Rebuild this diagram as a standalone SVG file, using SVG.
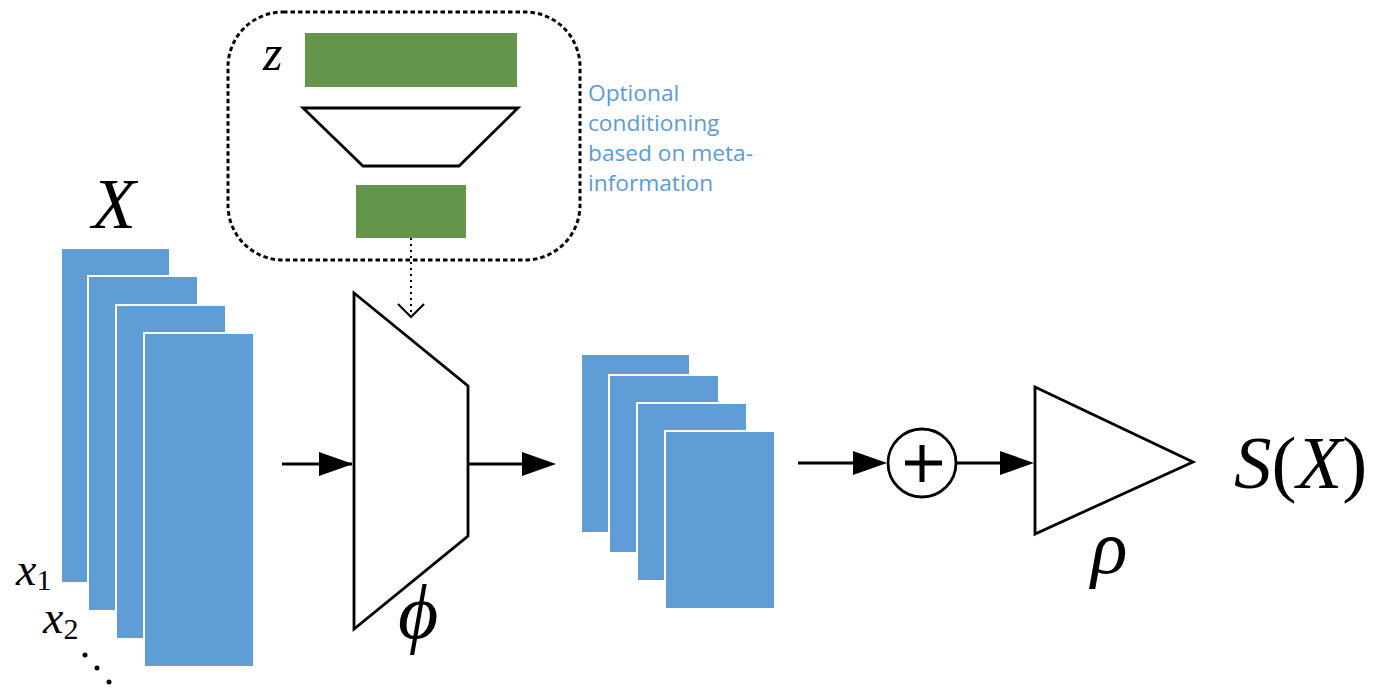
<svg xmlns="http://www.w3.org/2000/svg" width="1373" height="688" viewBox="0 0 1373 688">
<style>
.blue{fill:#5F9DD6;stroke:#ffffff;stroke-width:2}
.green{fill:#63954A}
.ln{fill:none;stroke:#000;stroke-width:2.8}
.shape{fill:#fff;stroke:#000;stroke-width:2.8;stroke-linejoin:miter}
.math{font-family:"Liberation Serif","Times New Roman",serif;font-style:italic;fill:#000}
.up{font-style:normal}
.note{font-family:"Open Sans","Noto Sans",sans-serif;font-size:22.7px;fill:#5B9BD5}
</style>
<rect width="1373" height="688" fill="#fff"/>

<g id="input-stack">
<rect class="blue" x="61" y="248" width="109" height="335"/>
<rect class="blue" x="88" y="276" width="110" height="335"/>
<rect class="blue" x="116" y="305" width="110" height="334"/>
<rect class="blue" x="144" y="333" width="110" height="334"/>
<text class="math" x="92" y="228" font-size="72">X</text>
<text class="math" x="16" y="585" font-size="46">x<tspan class="up" font-size="30" dy="5">1</tspan></text>
<text class="math" x="43" y="633" font-size="46">x<tspan class="up" font-size="30" dy="6">2</tspan></text>
<circle cx="85" cy="655" r="2.5" fill="#000"/>
<circle cx="97" cy="668" r="2.5" fill="#000"/>
<circle cx="109" cy="682" r="2.5" fill="#000"/>
</g>

<g id="conditioning">
<rect x="228" y="12" width="352" height="248" rx="55" ry="55" fill="none" stroke="#000" stroke-width="3" stroke-dasharray="4.5 3"/>
<rect class="green" x="305" y="33" width="212" height="54"/>
<text class="math" x="263" y="70" font-size="50">z</text>
<polygon class="shape" points="303,108 518,108 459,166 363,166"/>
<rect class="green" x="356" y="185" width="110" height="53"/>
<text class="note" x="588" y="101">Optional</text>
<text class="note" x="588" y="131">conditioning</text>
<text class="note" x="588" y="161">based on meta-</text>
<text class="note" x="588" y="191">information</text>
</g>

<g id="phi">
<polygon class="shape" points="354,293 468,386 468,536 354,629"/>
<text class="math" x="398" y="638" font-size="78">ϕ</text>
</g>

<g id="feature-stack">
<rect class="blue" x="581" y="354" width="109" height="179"/>
<rect class="blue" x="609" y="375" width="110" height="178"/>
<rect class="blue" x="637" y="403" width="110" height="178"/>
<rect class="blue" x="665" y="431" width="110" height="178"/>
</g>

<g id="sum">
<circle cx="922" cy="463" r="34" fill="#fff" stroke="#000" stroke-width="2.8"/>
<path d="M905,463 H942 M922,445 V482" stroke="#000" stroke-width="5" fill="none"/>
</g>

<g id="rho">
<polygon class="shape" points="1035,387 1193,462 1035,534"/>
<text class="math" x="1091" y="573" font-size="76">ρ</text>
</g>

<g id="output">
<text class="math" x="1234" y="488" font-size="75">S<tspan class="up">(</tspan>X<tspan class="up">)</tspan></text>
</g>

<g id="connectors">
<path d="M411,238 V315" fill="none" stroke="#000" stroke-width="2" stroke-dasharray="2 4"/>
<path d="M398,304 L411,317 L424,304" fill="none" stroke="#000" stroke-width="2"/>
<line class="ln" x1="282" y1="464" x2="352" y2="464"/>
<path d="M319,452 L353,464 L319,476 Z" fill="#000"/>
<line class="ln" x1="468" y1="464" x2="540" y2="464"/>
<path d="M522,452 L556,464 L522,476 Z" fill="#000"/>
<line class="ln" x1="798" y1="463" x2="870" y2="463"/>
<path d="M853,451 L887,463 L853,475 Z" fill="#000"/>
<line class="ln" x1="956" y1="463" x2="1015" y2="463"/>
<path d="M1000,451 L1034,463 L1000,475 Z" fill="#000"/>
</g>
</svg>
